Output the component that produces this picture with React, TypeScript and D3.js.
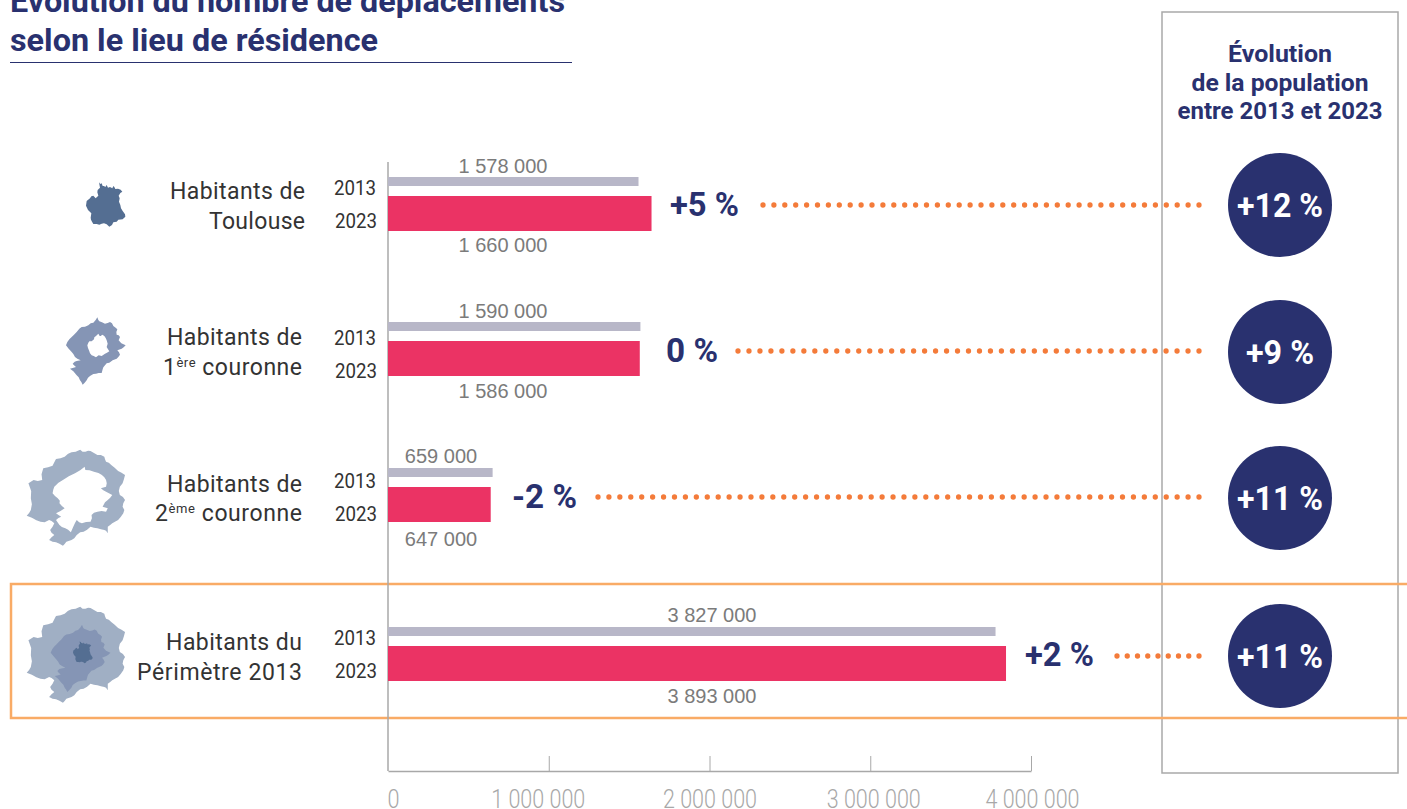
import React, { useEffect, useRef } from 'react';
import * as d3 from 'd3';

const labelLines = [
  ['Habitants de', 'Toulouse'],
  ['Habitants de', '1|ère| couronne'],
  ['Habitants de', '2|ème| couronne'],
  ['Habitants du', 'Périmètre 2013'],
];
const years = ['2013', '2023'];
const values2013 = [1578000, 1590000, 659000, 3827000];
const values2023 = [1660000, 1586000, 647000, 3893000];
const tripChange = ['+5 %', '0 %', '-2 %', '+2 %'];
const populationChange = ['+12 %', '+9 %', '+11 %', '+11 %'];
const axisTicks = [0, 1000000, 2000000, 3000000, 4000000];

const titleLines = ['Évolution du nombre de déplacements', 'selon le lieu de résidence'];
const sideTitle = ['Évolution', 'de la population', 'entre 2013 et 2023'];

// map silhouettes (3x pixels around their own origin)
const toulouseShape: [number, number][] = [[57,22],[61,27],[65,25],[68,33],[72,33],[76,36],[80,30],[84,38],[90,36],[97,40],[100,33],[103,36],[106,42],[114,41],[122,44],[127,50],[121,54],[116,62],[119,70],[117,80],[121,90],[123,100],[128,108],[135,118],[136,125],[128,133],[115,134],[110,140],[100,142],[96,150],[88,155],[80,148],[72,145],[65,146],[58,149],[50,147],[40,147],[36,140],[33,134],[32,128],[34,115],[24,105],[18,92],[20,78],[30,70],[34,64],[40,62],[47,70],[55,62],[52,52],[53,45],[60,38]];
const firstRingShape: [number, number][] = [[112,16],[115,24],[118,28],[126,31],[135,35],[143,33],[150,30],[156,34],[160,42],[167,47],[172,52],[169,60],[170,68],[176,70],[180,75],[176,85],[184,94],[197,100],[191,106],[185,110],[172,115],[177,121],[180,128],[175,135],[170,140],[158,145],[148,152],[140,154],[135,160],[130,166],[128,172],[125,183],[116,183],[108,185],[100,186],[90,192],[84,197],[80,205],[74,212],[68,218],[64,210],[60,205],[56,196],[50,190],[40,178],[30,170],[38,168],[48,165],[42,160],[38,155],[44,149],[50,147],[62,145],[52,140],[45,135],[40,126],[35,120],[26,110],[18,100],[22,90],[28,82],[35,75],[42,68],[50,60],[58,50],[65,45],[75,44],[85,40],[92,34],[100,32],[107,24]];
const firstRingHole: [number, number][] = [[115,65],[119,72],[122,72],[127,68],[133,72],[137,78],[140,85],[143,95],[140,105],[144,112],[148,118],[141,122],[135,125],[125,132],[116,130],[108,136],[101,132],[95,130],[90,124],[88,118],[84,108],[82,100],[85,92],[88,88],[95,88],[102,82],[103,76],[108,72]];
const secondRingShape: [number, number][] = [[175,14],[182,20],[190,20],[198,17],[205,18],[215,24],[225,30],[235,30],[245,35],[247,43],[250,50],[258,53],[265,60],[275,68],[285,78],[295,83],[305,90],[302,102],[298,115],[290,125],[287,138],[290,150],[299,156],[305,165],[300,175],[298,185],[303,195],[300,205],[293,215],[285,225],[268,235],[262,240],[255,245],[255,265],[250,257],[245,255],[235,253],[225,250],[215,248],[205,245],[195,254],[185,260],[175,262],[165,270],[158,280],[150,285],[135,290],[130,297],[125,302],[115,296],[105,292],[95,290],[85,285],[92,277],[100,270],[92,263],[88,255],[95,245],[100,235],[92,228],[85,225],[72,232],[60,230],[48,226],[35,218],[20,212],[27,204],[32,195],[35,178],[32,160],[33,138],[25,115],[32,110],[40,105],[52,108],[65,105],[63,88],[68,70],[82,67],[95,62],[100,52],[105,42],[118,40],[130,35],[140,26],[150,22],[162,20]];
const secondRingHole: [number, number][] = [[188,65],[190,75],[202,76],[215,80],[228,84],[238,90],[245,97],[250,105],[252,115],[250,125],[235,130],[242,136],[250,140],[268,150],[262,158],[255,165],[247,172],[240,185],[255,190],[250,200],[237,198],[225,200],[215,203],[208,210],[209,220],[205,230],[192,231],[180,235],[172,232],[165,225],[160,234],[155,245],[148,262],[140,254],[132,250],[122,246],[115,240],[105,225],[112,219],[120,215],[112,210],[105,205],[118,198],[130,190],[122,183],[115,175],[116,167],[110,160],[102,153],[95,145],[97,134],[100,125],[112,113],[125,105],[142,94],[160,85],[175,76]];

// layout of each row, top to bottom
const barTops = [177, 322, 468, 627];
const valueLabelX = [503, 503, 441, 712];
const valueLabelTop = [173, 318, 463, 622];
const valueLabelBottom = [252, 398, 546, 703];
const categoryX = [305, 302, 302, 302];
const categoryY = [[199, 229], [345, 375], [492, 521], [650, 680]];
const categoryWidth = [[135, 96], [135, 139], [135, 147], [136, 165]];
const yearY = [[195, 228], [345, 378], [488, 521], [645, 678]];
const changeX = [670, 666, 512, 1025];
const changeWidth = [69, 52, 65, 69];
const changeY = [216, 362, 508, 666];
const dotStart = [763, 738, 598, 1117];
const dotGaps = [40, 42, 55, 8];
const dotEnd = 1199;
const dotY = [205, 351, 497, 656];
const circleY = [205, 352, 498, 656];
const circleTextWidth = [86, 68, 86, 86];
const tickShift = [5, -11, 0, 3, 1];

const NAVY = '#29316f';
const DIN = "Roboto, 'Noto Sans', sans-serif";

export default function App () {
  const chartRef = useRef<SVGSVGElement | null>(null);

  useEffect(() => {
    if (!chartRef.current) return;
    const svg = d3.select(chartRef.current);
    svg.selectAll('*').remove();

    const axisX = d3.scaleLinear().domain([0, 4000000]).range([388, 1031]);
    // the bars were drawn slightly shorter than the printed axis
    const barX = d3.scaleLinear().domain([0, 4000000]).range([388, 1023]);

    const bold = (sel: any, size: number) => sel
      .attr('font-family', DIN)
      .attr('font-weight', 700)
      .attr('font-size', size)
      .attr('lengthAdjust', 'spacingAndGlyphs')
      .attr('fill', NAVY);

    // title
    titleLines.forEach((t, i) => {
      svg.append('text').call(bold, 32)
        .attr('x', 10).attr('y', i === 0 ? 12 : 51)
        .attr('textLength', i === 0 ? 555 : 368)
        .text(t);
    });
    svg.append('line')
      .attr('x1', 10).attr('x2', 572).attr('y1', 62.5).attr('y2', 62.5)
      .attr('stroke', NAVY).attr('stroke-width', 1);

    // right hand box
    svg.append('rect')
      .attr('x', 1162).attr('y', 12).attr('width', 236).attr('height', 761)
      .attr('fill', 'none').attr('stroke', '#a9a9a9').attr('stroke-width', 1.5);
    const sideWidths = [104, 177, 205];
    sideTitle.forEach((t, i) => {
      svg.append('text').call(bold, 23)
        .attr('x', 1280).attr('y', [62, 91, 119][i])
        .attr('text-anchor', 'middle')
        .attr('textLength', sideWidths[i])
        .text(t);
    });

    // highlighted row
    svg.append('rect')
      .attr('x', 11).attr('y', 584).attr('width', 1410).attr('height', 134)
      .attr('fill', 'none').attr('stroke', '#f9ab66').attr('stroke-width', 2.5);

    // axis
    svg.append('line')
      .attr('x1', 388).attr('x2', 388).attr('y1', 162).attr('y2', 771)
      .attr('stroke', '#a8a8a8').attr('stroke-width', 1.5);
    const axis = svg.append('g')
      .attr('transform', 'translate(0,771)')
      .call(d3.axisBottom(axisX)
        .tickValues(axisTicks)
        .tickSizeInner(-15)
        .tickSizeOuter(0)
        .tickPadding(24)
        .tickFormat(d => d3.format(',')(d as number).replace(/,/g, ' ')));
    axis.select('.domain').attr('stroke', '#a8a8a8').attr('stroke-width', 1.5);
    axis.selectAll('.tick line').attr('stroke', '#a8a8a8');
    axis.selectAll('.tick').filter((d: any) => d === 0).select('line').remove();
    axis.selectAll('.tick text')
      .attr('dy', null)
      .attr('fill', '#a8a8a8')
      .attr('font-family', DIN)
      .attr('font-weight', 300)
      .attr('font-size', 25)
      .attr('x', (d, i) => tickShift[i])
      .attr('y', 37)
      .attr('textLength', (d: any) => d === 0 ? 12 : 94)
      .attr('lengthAdjust', 'spacingAndGlyphs');

    // bars
    svg.selectAll('.bar2013')
      .data(values2013)
      .join('rect')
      .attr('class', 'bar2013')
      .attr('x', barX(0))
      .attr('y', (d, i) => barTops[i])
      .attr('width', d => barX(d) - barX(0))
      .attr('height', 9)
      .attr('fill', '#b8b7c8');
    svg.selectAll('.bar2023')
      .data(values2023)
      .join('rect')
      .attr('class', 'bar2023')
      .attr('x', barX(0))
      .attr('y', (d, i) => barTops[i] + 19)
      .attr('width', d => barX(d) - barX(0))
      .attr('height', 35)
      .attr('fill', '#eb3364');

    const fmt = (d: number) => d3.format(',')(d).replace(/,/g, ' ');
    const valueLabel = (d: number, x: number, y: number) => svg.append('text')
      .attr('x', x).attr('y', y)
      .attr('text-anchor', 'middle')
      .attr('font-family', "'Liberation Sans', sans-serif")
      .attr('font-size', 20)
      .attr('fill', '#7b7b7b')
      .text(fmt(d));

    labelLines.forEach((lines, i) => {
      valueLabel(values2013[i], valueLabelX[i], valueLabelTop[i]);
      valueLabel(values2023[i], valueLabelX[i], valueLabelBottom[i]);

      // category, with the ordinal suffix raised
      lines.forEach((line, j) => {
        const text = svg.append('text')
          .attr('x', categoryX[i]).attr('y', categoryY[i][j])
          .attr('text-anchor', 'end')
          .attr('font-family', DIN)
          .attr('font-size', 23)
          .attr('textLength', categoryWidth[i][j])
          .attr('lengthAdjust', 'spacing')
          .attr('fill', '#333333');
        const parts = line.split('|');
        if (parts.length === 1) {
          text.text(line);
        } else {
          text.append('tspan').text(parts[0]);
          text.append('tspan').attr('dy', -8).attr('font-size', 13).text(parts[1]);
          text.append('tspan').attr('dy', 8).text(parts[2]);
        }
      });

      years.forEach((y, j) => {
        svg.append('text')
          .attr('x', 376 + j).attr('y', yearY[i][j])
          .attr('text-anchor', 'end')
          .attr('font-family', DIN)
          .attr('font-size', 20)
          .attr('textLength', 42)
          .attr('lengthAdjust', 'spacingAndGlyphs')
          .attr('fill', '#333333')
          .text(y);
      });

      svg.append('text').call(bold, 33)
        .attr('x', changeX[i]).attr('y', changeY[i])
        .attr('textLength', changeWidth[i])
        .text(tripChange[i]);

      // spacing differs a little per row, so both end dots land where they should
      svg.append('line')
        .attr('x1', dotEnd).attr('x2', dotStart[i] - 0.5)
        .attr('y1', dotY[i]).attr('y2', dotY[i])
        .attr('stroke', '#f47b3a')
        .attr('stroke-width', 5.3)
        .attr('stroke-linecap', 'round')
        .attr('stroke-dasharray', `0 ${(dotEnd - dotStart[i]) / dotGaps[i]}`);

      svg.append('circle')
        .attr('cx', 1280).attr('cy', circleY[i]).attr('r', 52)
        .attr('fill', NAVY);
      svg.append('text').call(bold, 33)
        .attr('x', 1280).attr('y', circleY[i] + 12)
        .attr('text-anchor', 'middle')
        .attr('textLength', circleTextWidth[i])
        .attr('fill', '#ffffff')
        .text(populationChange[i]);
    });

    // maps
    const path = d3.line().curve(d3.curveLinearClosed);
    const map = (rings: [number, number][][], fill: string, x: number, y: number, k = 1, kx = k) => svg.append('path')
      .attr('transform', `translate(${x},${y}) scale(${kx / 3},${k / 3})`)
      .attr('fill', fill)
      .attr('fill-rule', 'evenodd')
      .attr('d', rings.map(r => path(r)).join(''));

    map([toulouseShape], '#546e92', 80, 175);
    map([firstRingShape, firstRingHole], '#8595b5', 60, 312);
    map([secondRingShape, secondRingHole], '#a0afc4', 19.8, 445, 1, 1.035);
    map([secondRingShape], '#a0afc4', 19.8, 602, 1, 1.035);
    map([firstRingShape], '#8595b5', 44.7, 619.4);
    map([toulouseShape], '#546e92', 70, 637.5, 0.5);
  }, []);

  return (
    <svg
      ref={chartRef}
      width={1407}
      height={809}
      style={{ position: 'absolute', left: 0, top: 0, display: 'block', background: '#ffffff' }}
    />
  );
}
